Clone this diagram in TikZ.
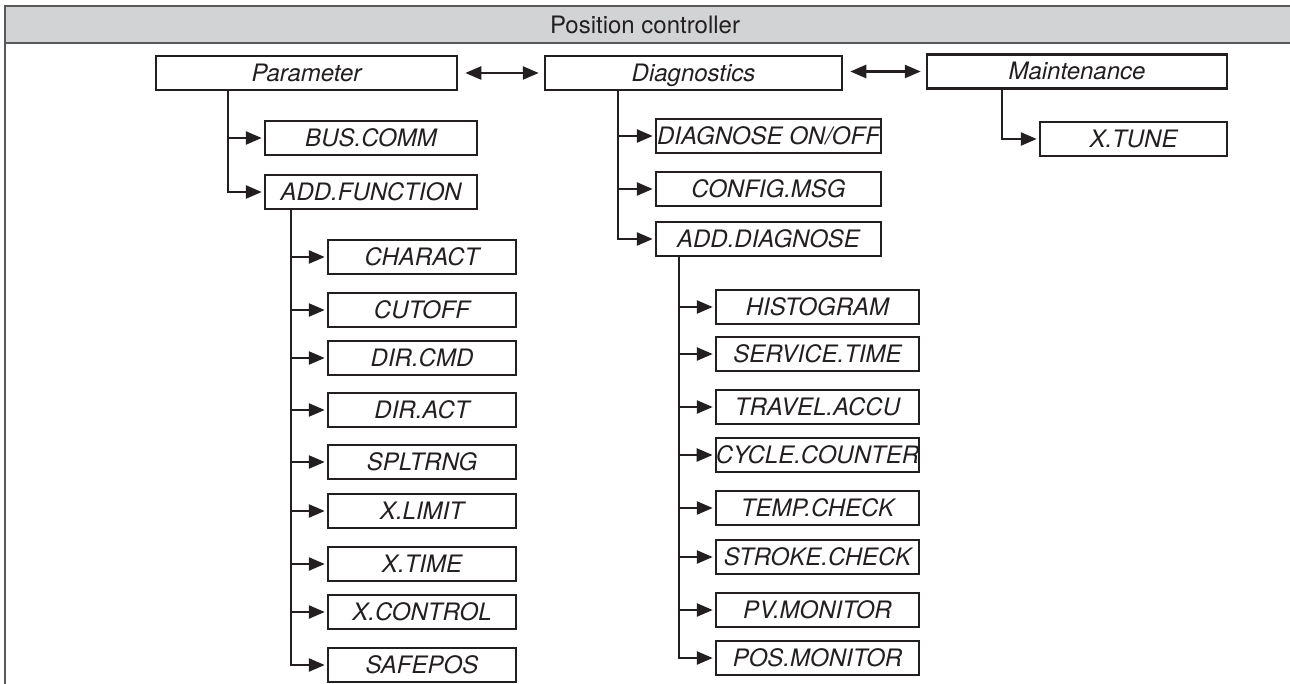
\documentclass[tikz,border=0pt]{standalone}
\usepackage{fontspec}
\setmainfont{TeX Gyre Heros}
\usetikzlibrary{arrows.meta}
\definecolor{ink}{HTML}{231F20}
\definecolor{headfill}{HTML}{D1D3D4}
\definecolor{framegray}{HTML}{58595B}
\begin{document}
\begin{tikzpicture}[x=1pt,y=-1pt,
  box/.style={draw=ink, line width=2.5pt, minimum width=#1, minimum height=34pt,
    inner sep=0pt, font=\fontsize{24}{26}\selectfont\itshape, text=ink,
    text height=17pt, text depth=0pt},
  tip/.tip={Triangle[length=16pt,width=13pt]},
  link/.style={draw=ink, line width=2.5pt},
  tree/.style={link, -tip, shorten >=2pt},
  both/.style={link, tip-tip, shorten <=7pt, shorten >=5pt}]
\useasboundingbox (0,0) rectangle (1290,684);
% frame and header
\fill[headfill] (5,6) rectangle (1290,43);
\draw[framegray, line width=2pt] (1290,6) -- (5,6) -- (5,684);
\draw[framegray, line width=2pt] (5,43) -- (1290,43);
\node[font=\fontsize{24}{26}\selectfont, text=ink] (title) at (645,25) {Position controller};
% top level
\node[box=301pt] (param) at (306.5,73) {Parameter};
\node[box=297pt] (diag) at (693.5,73) {Diagnostics};
\node[box=300pt] (maint) at (1077,71.5) {Maintenance};
\draw[both] (param.east) -- (diag.west);
\draw[both] (diag.east |- maint.west) -- (maint.west);
% Parameter branch
\node[box=212pt] (buscomm) at (371,138) {BUS.COMM};
\node[box=212pt] (addfunc) at (371,192) {ADD.FUNCTION};
\foreach \c in {buscomm,addfunc}
  \draw[tree] ([xshift=73pt]param.south west) |- (\c.west);
\node[box=188pt] (charact)  at (422,257) {CHARACT};
\node[box=188pt] (cutoff)   at (422,310) {CUTOFF};
\node[box=188pt] (dircmd)   at (422,358) {DIR.CMD};
\node[box=188pt] (diract)   at (422,410) {DIR.ACT};
\node[box=188pt] (spltrng)  at (422,462) {SPLTRNG};
\node[box=188pt] (xlimit)   at (422,511) {X.LIMIT};
\node[box=188pt] (xtime)    at (422,564) {X.TIME};
\node[box=188pt] (xcontrol) at (422,612) {X.CONTROL};
\node[box=188pt] (safepos)  at (422,665) {SAFEPOS};
\foreach \c in {charact,cutoff,dircmd,diract,spltrng,xlimit,xtime,xcontrol,safepos}
  \draw[tree] ([xshift=27pt]addfunc.south west) |- (\c.west);
% Diagnostics branch
\node[box=225pt] (diagonoff) at (768.5,136) {DIAGNOSE ON/OFF};
\node[box=225pt] (configmsg) at (768.5,189) {CONFIG.MSG};
\node[box=225pt] (adddiag)   at (768.5,239) {ADD.DIAGNOSE};
\foreach \c in {diagonoff,configmsg,adddiag}
  \draw[tree] ([xshift=74pt]diag.south west) |- (\c.west);
\node[box=203pt] (histogram)    at (817.5,307) {HISTOGRAM};
\node[box=203pt] (servicetime)  at (817.5,354) {SERVICE.TIME};
\node[box=203pt] (travelaccu)   at (817.5,407) {TRAVEL.ACCU};
\node[box=203pt] (cyclecounter) at (817.5,455) {CYCLE.COUNTER};
\node[box=203pt] (tempcheck)    at (817.5,508) {TEMP.CHECK};
\node[box=203pt] (strokecheck)  at (817.5,557) {STROKE.CHECK};
\node[box=203pt] (pvmonitor)    at (817.5,610) {PV.MONITOR};
\node[box=203pt] (posmonitor)   at (817.5,658) {POS.MONITOR};
\foreach \c in {histogram,servicetime,travelaccu,cyclecounter,tempcheck,strokecheck,pvmonitor,posmonitor}
  \draw[tree] ([xshift=24pt]adddiag.south west) |- (\c.west);
% Maintenance branch
\node[box=187pt] (xtune) at (1133.5,139) {X.TUNE};
\draw[tree] ([xshift=76pt]maint.south west) |- (xtune.west);
\end{tikzpicture}
\end{document}
